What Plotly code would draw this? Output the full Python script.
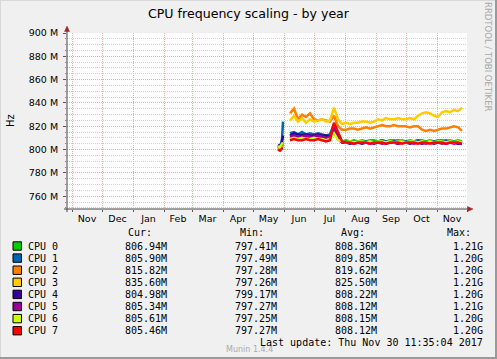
import plotly.graph_objects as go
import pandas as pd

# ---------------- data ----------------
dates = [
    "2017-05-26", "2017-05-28", "2017-05-30", "2017-05-31", "2017-06-03",
    "2017-06-07", "2017-06-11", "2017-06-15", "2017-06-19", "2017-06-23", "2017-06-27",
    "2017-07-01", "2017-07-05", "2017-07-09", "2017-07-13", "2017-07-17", "2017-07-21",
    "2017-07-25", "2017-07-29", "2017-08-02", "2017-08-06", "2017-08-10", "2017-08-14",
    "2017-08-18", "2017-08-22", "2017-08-26", "2017-08-30", "2017-09-03", "2017-09-07",
    "2017-09-11", "2017-09-15", "2017-09-19", "2017-09-23", "2017-09-27", "2017-10-01",
    "2017-10-05", "2017-10-09", "2017-10-13", "2017-10-17", "2017-10-21", "2017-10-25",
    "2017-10-29", "2017-11-02", "2017-11-06", "2017-11-10", "2017-11-14", "2017-11-18",
    "2017-11-22", "2017-11-26", "2017-11-29",
]

# values in MHz (None = no data)
cpu0 = [802, 801, 803, 804, None,
        810, 811, 810, 810, 811, 810, 810, 811, 810, 809, 810, 815, 809, 807,
        808, 807, 808, 807, 808, 807, 808, 808, 807, 808, 807, 808, 808, 807,
        808, 807, 808, 807, 808, 808, 807, 808, 807, 808, 808, 807, 808, 807, 808, 807]
cpu1 = [803, 802, 809, 824, None,
        814, 815, 813, 815, 813, 814, 813, 814, 813, 812, 813, 822, 812, 807,
        806, 807, 806, 807, 806, 807, 807, 806, 807, 808, 807, 806, 807, 808,
        807, 807, 806, 807, 808, 807, 806, 807, 807, 806, 807, 808, 807, 806, 807, 806]
cpu2 = [801, 800, 802, 803, None,
        831, 835, 826, 830, 828, 831, 826, 825, 826, 825, 824, 829, 820, 817,
        817, 818, 818, 817, 818, 819, 818, 819, 820, 821, 820, 820, 821, 820,
        820, 820, 819, 820, 820, 817, 816, 817, 816, 817, 818, 818, 819, 820, 819, 816]
cpu3 = [802, 801, 803, 803, None,
        825, 829, 824, 827, 823, 826, 824, 825, 826, 824, 825, 836, 826, 822,
        823, 822, 823, 823, 824, 824, 823, 824, 826, 825, 827, 826, 826, 827,
        826, 826, 827, 826, 829, 831, 832, 831, 829, 828, 832, 833, 832, 834, 833, 836]
cpu4 = [804, 803, 806, 812, None,
        812, 814, 813, 812, 813, 812, 812, 813, 812, 812, 811, 818, 810, 806,
        806, 805, 806, 806, 805, 806, 806, 805, 806, 806, 805, 806, 806, 805,
        806, 806, 805, 806, 806, 805, 806, 806, 805, 806, 806, 805, 806, 806, 805, 805]
cpu5 = [803, 802, 804, 806, None,
        811, 812, 811, 811, 812, 811, 811, 812, 811, 810, 811, 819, 809, 806,
        806, 806, 805, 806, 806, 806, 805, 806, 806, 805, 806, 806, 806, 805,
        806, 806, 806, 805, 806, 806, 805, 806, 806, 806, 805, 806, 806, 805, 806, 805]
cpu6 = [803, 802, 805, 806, None,
        809, 810, 809, 810, 809, 809, 810, 809, 809, 808, 809, 814, 808, 807,
        806, 807, 806, 807, 807, 806, 807, 806, 807, 807, 806, 807, 806, 807,
        807, 806, 807, 807, 806, 807, 806, 807, 806, 807, 807, 806, 807, 806, 807, 806]
cpu7 = [800, 799, 801, 801, None,
        808, 809, 808, 808, 809, 808, 808, 809, 808, 807, 808, 823, 815, 807,
        806, 806, 805, 806, 806, 806, 805, 806, 806, 806, 805, 806, 806, 806,
        805, 806, 806, 806, 805, 806, 806, 805, 806, 806, 806, 805, 806, 806, 806, 805]

series_names = ["CPU 0", "CPU 1", "CPU 2", "CPU 3", "CPU 4", "CPU 5", "CPU 6", "CPU 7"]
series_values = [cpu0, cpu1, cpu2, cpu3, cpu4, cpu5, cpu6, cpu7]
colors = ["#00CC00", "#0066B3", "#FF8000", "#FFCC00", "#330099", "#990099", "#CCFF00", "#FF0000"]

cur_vals = [806.94, 805.90, 815.82, 835.60, 804.98, 805.34, 805.61, 805.46]   # M
min_vals = [797.41, 797.49, 797.28, 797.26, 799.17, 797.27, 797.25, 797.27]   # M
avg_vals = [808.36, 809.85, 819.62, 825.50, 808.22, 808.12, 808.15, 808.12]   # M
max_vals = [1.21, 1.20, 1.20, 1.21, 1.20, 1.21, 1.20, 1.20]                   # G

y_tick_values = [760, 780, 800, 820, 840, 860, 880, 900]   # M
y_tick_labels = ["760 M", "780 M", "800 M", "820 M", "840 M", "860 M", "880 M", "900 M"]
month_starts = ["2016-11-01", "2016-12-01", "2017-01-01", "2017-02-01", "2017-03-01",
                "2017-04-01", "2017-05-01", "2017-06-01", "2017-07-01", "2017-08-01",
                "2017-09-01", "2017-10-01", "2017-11-01", "2017-12-01"]
month_labels = ["Nov", "Dec", "Jan", "Feb", "Mar", "Apr", "May", "Jun", "Jul",
                "Aug", "Sep", "Oct", "Nov"]

# ---------------- figure ----------------
W, H = 497, 359
L, R, T, B = 67, 467, 33, 209


def px(x):
    return (x - L) / (R - L)


def py(y):
    return (B - y) / (B - T)


fig = go.Figure()
xd = pd.to_datetime(dates)
for name, vals, col in zip(series_names, series_values, colors):
    fig.add_trace(go.Scatter(
        x=xd, y=[None if v is None else v * 1e6 for v in vals],
        mode="lines", name=name, line=dict(color=col, width=2.5),
        connectgaps=False, showlegend=False, hoverinfo="skip"))

ms = pd.to_datetime(month_starts)
mids = [ms[i] + (ms[i + 1] - ms[i]) / 2 for i in range(len(ms) - 1)]

FONT = "DejaVu Sans"
MONO = "DejaVu Sans Mono"
pink = "#F2A8A8"
grey = "#D0D0D0"

fig.update_layout(
    width=W, height=H,
    margin=dict(l=L, r=W - R, t=T, b=H - B, pad=0, autoexpand=False),
    paper_bgcolor="#F0F0F0", plot_bgcolor="#FFFFFF",
    font=dict(family=FONT, size=9.5, color="#000000"),
    title=dict(text="CPU frequency scaling - by year", x=0.5, xref="container",
               xanchor="center", y=1 - 14 / H, yanchor="middle", yref="container",
               font=dict(family=FONT, size=12.6, color="#000000")),
    showlegend=False,
)

fig.update_xaxes(
    type="date", range=["2016-10-27", "2017-12-01"], automargin=False,
    tickmode="array", tickvals=mids, ticktext=month_labels,
    showgrid=False, ticks="", showline=False, zeroline=False,
    tickfont=dict(family=FONT, size=9.5, color="#000000"),
    ticklabelstandoff=2,
    minor=dict(tickmode="array", tickvals=ms, showgrid=True, gridcolor=pink,
               griddash="1px,1px", gridwidth=1, ticks="outside", ticklen=2,
               tickcolor="#555555"),
)
fig.update_yaxes(
    range=[749e6, 900e6], automargin=False,
    tickmode="array", tickvals=[v * 1e6 for v in y_tick_values], ticktext=y_tick_labels,
    showgrid=True, gridcolor=pink, griddash="1px,1px", gridwidth=1,
    ticks="outside", ticklen=3, tickcolor="#555555", showline=False, zeroline=False,
    tickfont=dict(family=FONT, size=9.5, color="#000000"),
    ticklabelstandoff=3,
    minor=dict(dtick=5e6, tick0=0, showgrid=True, gridcolor=grey,
               griddash="1px,1px", gridwidth=1, ticks="outside", ticklen=1,
               tickcolor="#888888"),
)

shapes = []
axis_col = "#444444"
arrow_col = "#A02828"
# axes with overshoot
shapes.append(dict(type="line", xref="paper", yref="paper", x0=px(67), x1=px(67),
                   y0=py(212), y1=py(29), line=dict(color=axis_col, width=1)))
shapes.append(dict(type="line", xref="paper", yref="paper", x0=px(64), x1=px(469),
                   y0=py(209), y1=py(209), line=dict(color=axis_col, width=1)))


def tri(pts):
    p = "M " + " L ".join(f"{px(a):.5f},{py(b):.5f}" for a, b in pts) + " Z"
    return dict(type="path", xref="paper", yref="paper", path=p,
                fillcolor=arrow_col, line=dict(color=arrow_col, width=0.5))


shapes.append(tri([(67, 26), (64.5, 31.5), (69.5, 31.5)]))
shapes.append(tri([(473, 209), (467.5, 206.5), (467.5, 211.5)]))
# frame (3D-ish border)
shapes.append(dict(type="line", xref="paper", yref="paper", x0=px(0), x1=px(W),
                   y0=py(0.5), y1=py(0.5), line=dict(color="#D8D8D8", width=1)))
shapes.append(dict(type="line", xref="paper", yref="paper", x0=px(0.5), x1=px(0.5),
                   y0=py(0), y1=py(H), line=dict(color="#D8D8D8", width=1)))
shapes.append(dict(type="line", xref="paper", yref="paper", x0=px(W - 1), x1=px(W - 1),
                   y0=py(0), y1=py(H), line=dict(color="#9A9A9A", width=2)))
shapes.append(dict(type="line", xref="paper", yref="paper", x0=px(0), x1=px(W),
                   y0=py(H - 1), y1=py(H - 1), line=dict(color="#9A9A9A", width=2)))

annotations = []


def txt(x, y, s, anchor="left", size=10, color="#000000", family=MONO, angle=0):
    annotations.append(dict(x=px(x), y=py(y), xref="paper", yref="paper", text=s,
                            showarrow=False, xanchor=anchor, yanchor="middle",
                            textangle=angle, borderpad=0,
                            font=dict(family=family, size=size, color=color)))


# axis label & watermark
txt(10, 121, "Hz", anchor="center", size=10, family=FONT, angle=-90)
txt(488, 57, "RRDTOOL / TOBI OETIKER", anchor="center", size=8.5,
    color="#A8A8A8", family=FONT, angle=90)

# legend table
header_y = 233
txt(153, header_y, "Cur:", anchor="right")
txt(265, header_y, "Min:", anchor="right")
txt(366, header_y, "Avg:", anchor="right")
txt(472, header_y, "Max:", anchor="right")
row0, step = 246, 12.1
for i, name in enumerate(series_names):
    y = row0 + i * step
    shapes.append(dict(type="rect", xref="paper", yref="paper",
                       x0=px(13), x1=px(21.5), y0=py(y + 4.2), y1=py(y - 4.2),
                       fillcolor=colors[i], line=dict(color="#000000", width=1)))
    txt(27, y, name)
    txt(167.5, y, f"{cur_vals[i]:.2f}M", anchor="right")
    txt(277.5, y, f"{min_vals[i]:.2f}M", anchor="right")
    txt(377.5, y, f"{avg_vals[i]:.2f}M", anchor="right")
    txt(483.5, y, f"{max_vals[i]:.2f}G", anchor="right")

txt(225, 349, "Munin 1.4.4", anchor="left", size=8, color="#AAAAAA", family=FONT)
txt(483.5, 342.5, "Last update: Thu Nov 30 11:35:04 2017", anchor="right")

fig.update_layout(shapes=shapes, annotations=annotations)
fig.write_html("out.html",
               config={"displayModeBar": False, "staticPlot": True},
               post_script="document.body.style.margin='0px';"
                           "document.body.style.overflow='hidden';")
